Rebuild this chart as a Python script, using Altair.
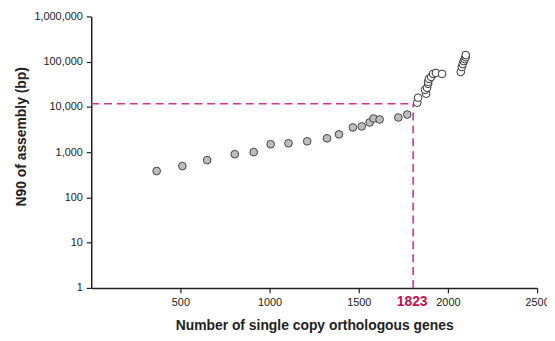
import altair as alt
import pandas as pd

# grey (filled) points
grey_x = [367, 511, 650, 805, 911, 1006, 1106, 1211, 1322, 1389, 1467, 1517, 1561, 1583, 1617, 1722, 1772]
grey_y = [384, 493, 668, 903, 1000, 1496, 1574, 1740, 2024, 2478, 3525, 3707, 4538, 5550, 5277, 5837, 6790]

# white (open) points
white_x = [1828, 1833, 1878, 1872, 1883, 1889, 1889, 1894, 1906, 1917, 1933, 1967,
           2072, 2078, 2083, 2089, 2094, 2100, 2100]
white_y = [12440, 16000, 19600, 23900, 26500, 32400, 35800, 41700, 46100, 53700, 56300, 53700,
           59300, 76300, 88900, 103000, 114000, 126000, 140000]

cutoff_x = 1805
cutoff_y = 11800
cutoff_label = "1823"

x_ticks = [500, 1000, 1500, 2000, 2500]
y_ticks = [1, 10, 100, 1000, 10000, 100000, 1000000]

grey = pd.DataFrame({"x": grey_x, "y": grey_y})
white = pd.DataFrame({"x": white_x, "y": white_y})

xs = alt.Scale(domain=[0, 2500], nice=False)
ys = alt.Scale(type="log", domain=[1, 1000000], nice=False)

x_enc = alt.X("x:Q", scale=xs, axis=alt.Axis(
    values=x_ticks, format="d", title="Number of single copy orthologous genes",
    grid=False, domainColor="#222", tickColor="#222", tickSize=5,
    labelFont="Liberation Sans", labelFontSize=11, labelColor="#222", labelPadding=4,
    labelOverlap=False, labelFlush=False,
    titleFont="Liberation Sans", titleFontSize=14, titleFontWeight="bold",
    titleColor="#222", titlePadding=11, domainWidth=1.5, tickWidth=1.2))
y_enc = alt.Y("y:Q", scale=ys, axis=alt.Axis(
    values=y_ticks, format=",", title="N90 of assembly (bp)",
    grid=False, domainColor="#222", tickColor="#222", tickSize=5,
    labelFont="Liberation Sans", labelFontSize=11, labelColor="#222", labelPadding=4,
    labelFlush=False,
    titleFont="Liberation Sans", titleFontSize=14, titleFontWeight="bold",
    titleColor="#222", titleX=-70, titleY=121, titleBaseline="middle",
    domainWidth=1.5, tickWidth=1.2))

cut = pd.DataFrame({"x": [cutoff_x], "y": [cutoff_y], "x0": [0], "y0": [1], "label": [cutoff_label]})

hline = alt.Chart(cut).mark_rule(color="#d6338f", strokeWidth=1.6, strokeDash=[8, 5]).encode(
    x=alt.X("x0:Q", scale=xs), x2="x:Q", y=alt.Y("y:Q", scale=ys))
vline = alt.Chart(cut).mark_rule(color="#d6338f", strokeWidth=1.6, strokeDash=[8, 5]).encode(
    x=alt.X("x:Q", scale=xs), y=alt.Y("y0:Q", scale=ys), y2="y:Q")

pts_grey = alt.Chart(grey).mark_point(filled=True, shape="circle", size=60, fill="#bdbdbd",
                                      stroke="#444", strokeWidth=1, opacity=1).encode(x=x_enc, y=y_enc)
pts_white = alt.Chart(white).mark_point(filled=True, shape="circle", size=60, fill="white",
                                        stroke="#333", strokeWidth=1, opacity=1).encode(
    x=alt.X("x:Q", scale=xs), y=alt.Y("y:Q", scale=ys))

label = alt.Chart(cut).mark_text(color="#c0134f", font="Liberation Sans", fontSize=14,
                                 fontWeight="bold", baseline="middle", dx=-1).encode(
    x=alt.X("x:Q", scale=xs), y=alt.value(288), text="label:N")

chart = alt.layer(hline, vline, pts_grey, pts_white, label).properties(
    width=450, height=274,
    autosize=alt.AutoSizeParams(type="none"),
    padding={"left": 84, "top": 7, "right": 10, "bottom": 45},
).configure_view(stroke=None)

chart.save("out.html", embed_options={"renderer": "svg", "actions": False})
